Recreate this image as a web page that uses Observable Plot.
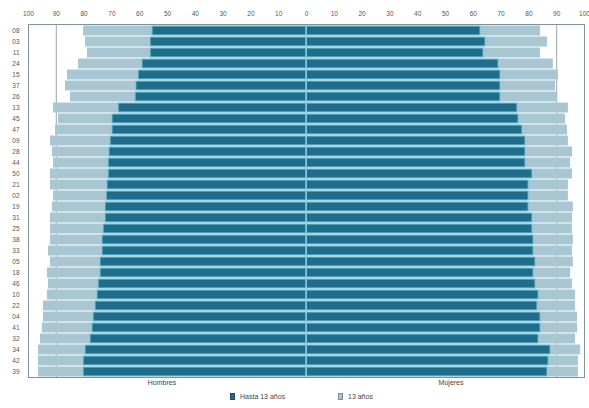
<!DOCTYPE html>
<html>
<head>
<meta charset="utf-8">
<script src="https://cdn.jsdelivr.net/npm/d3@7"></script>
<script src="https://cdn.jsdelivr.net/npm/@observablehq/plot@0.6"></script>
<style>
  body { margin: 0; background: #fff; font-family: "Liberation Sans", Arial, sans-serif; }
  #legend { position: relative; width: 589px; height: 18px; font-size: 7px; color: #444; }
  #legend .item { position: absolute; top: 3px; display: flex; align-items: center; }
  #legend .sw { width: 5px; height: 7px; margin-right: 5px; box-sizing: border-box; }
</style>
</head>
<body>
<div id="chart"></div>
<div id="legend">
  <div class="item" style="left:230px"><span class="sw" style="background:#1f6c8b;border:1px solid #184f66"></span><span id="lg1"></span></div>
  <div class="item" style="left:338px"><span class="sw" style="background:#a9c7d3;border:1px solid #6f8f9c"></span><span id="lg2"></span></div>
</div>
<script>
const rows = ["08","03","11","24","15","37","26","13","45","47","09","28","44","50","21","02","19","31","25","38","33","05","18","46","10","22","04","41","32","34","42","39"];
const menDark = [55.4,56.1,56.1,59.0,60.4,61.2,61.5,67.6,69.8,69.8,70.5,70.9,71.2,71.2,71.6,71.9,72.3,72.3,73.0,73.4,73.4,74.1,74.1,74.8,75.2,75.9,76.6,77.0,77.7,79.5,80.2,80.2];
const menTotal = [80.2,79.5,78.8,82.0,86.0,86.7,84.9,91.0,89.2,90.3,92.1,91.4,91.0,92.1,92.1,91.0,91.4,92.1,92.1,92.1,92.8,92.1,93.2,92.8,93.2,94.6,94.6,95.0,95.7,96.4,96.4,96.4];
const womenDark = [62.6,64.4,63.7,69.1,69.8,69.8,69.8,75.9,76.3,77.7,78.8,78.8,78.8,81.3,79.9,79.9,79.9,81.3,81.3,81.7,81.7,82.4,81.7,82.4,83.5,83.1,84.2,84.2,83.5,87.8,87.1,86.7];
const womenTotal = [84.2,86.7,84.2,88.8,90.6,89.6,90.3,94.2,93.2,93.9,94.2,95.7,95.0,95.7,94.2,94.2,96.0,95.7,95.7,96.0,95.7,96.0,95.0,95.7,96.8,96.8,97.5,97.5,96.8,98.6,97.8,97.8];
const xTicks = [-100,-90,-80,-70,-60,-50,-40,-30,-20,-10,0,10,20,30,40,50,60,70,80,90,100];
const sideLabels = ["Hombres","Mujeres"];
const legendLabels = ["Hasta 13 años","13 años"];

const light = [], dark = [];
rows.forEach((r, i) => {
  light.push({row: r, x1: -menTotal[i], x2: 0});
  light.push({row: r, x1: 0, x2: womenTotal[i]});
  dark.push({row: r, x1: -menDark[i], x2: 0});
  dark.push({row: r, x1: 0, x2: womenDark[i]});
});

const chart = Plot.plot({
  width: 589,
  height: 390,
  marginTop: 24,
  marginBottom: 13,
  marginLeft: 28,
  marginRight: 5,
  style: {fontFamily: "Liberation Sans, Arial, sans-serif", background: "#fff"},
  x: {domain: [-100, 100]},
  y: {domain: rows, padding: 0},
  marks: [
    Plot.ruleX([-90, 90], {stroke: "#9aa7ad", strokeWidth: 1}),
    Plot.barX(light, {x1: "x1", x2: "x2", y: "row", fill: "#a9c7d3", insetTop: 0.5, insetBottom: 0.5}),
    Plot.barX(dark, {x1: "x1", x2: "x2", y: "row", fill: "#1f6c8b", stroke: "#7ccbe0", strokeWidth: 1, insetTop: 1, insetBottom: 1}),
    Plot.ruleX([0], {stroke: "#86c9dc", strokeWidth: 1}),
    Plot.frame({stroke: "#7f9299", strokeWidth: 1}),
    Plot.axisX({anchor: "top", ticks: xTicks, tickFormat: d => Math.abs(d), tickSize: 0, tickPadding: 9, fontSize: 6.5, fill: "#555", label: null}),
    Plot.axisY({anchor: "left", tickSize: 0, tickPadding: 9, fontSize: 6.5, fill: "#555", label: null}),
    Plot.text(sideLabels, {x: [-52, 52], frameAnchor: "bottom", dy: 7, text: d => d, fontSize: 7, fill: "#444"})
  ]
});
document.getElementById("chart").appendChild(chart);
document.getElementById("lg1").textContent = legendLabels[0];
document.getElementById("lg2").textContent = legendLabels[1];
</script>
</body>
</html>
